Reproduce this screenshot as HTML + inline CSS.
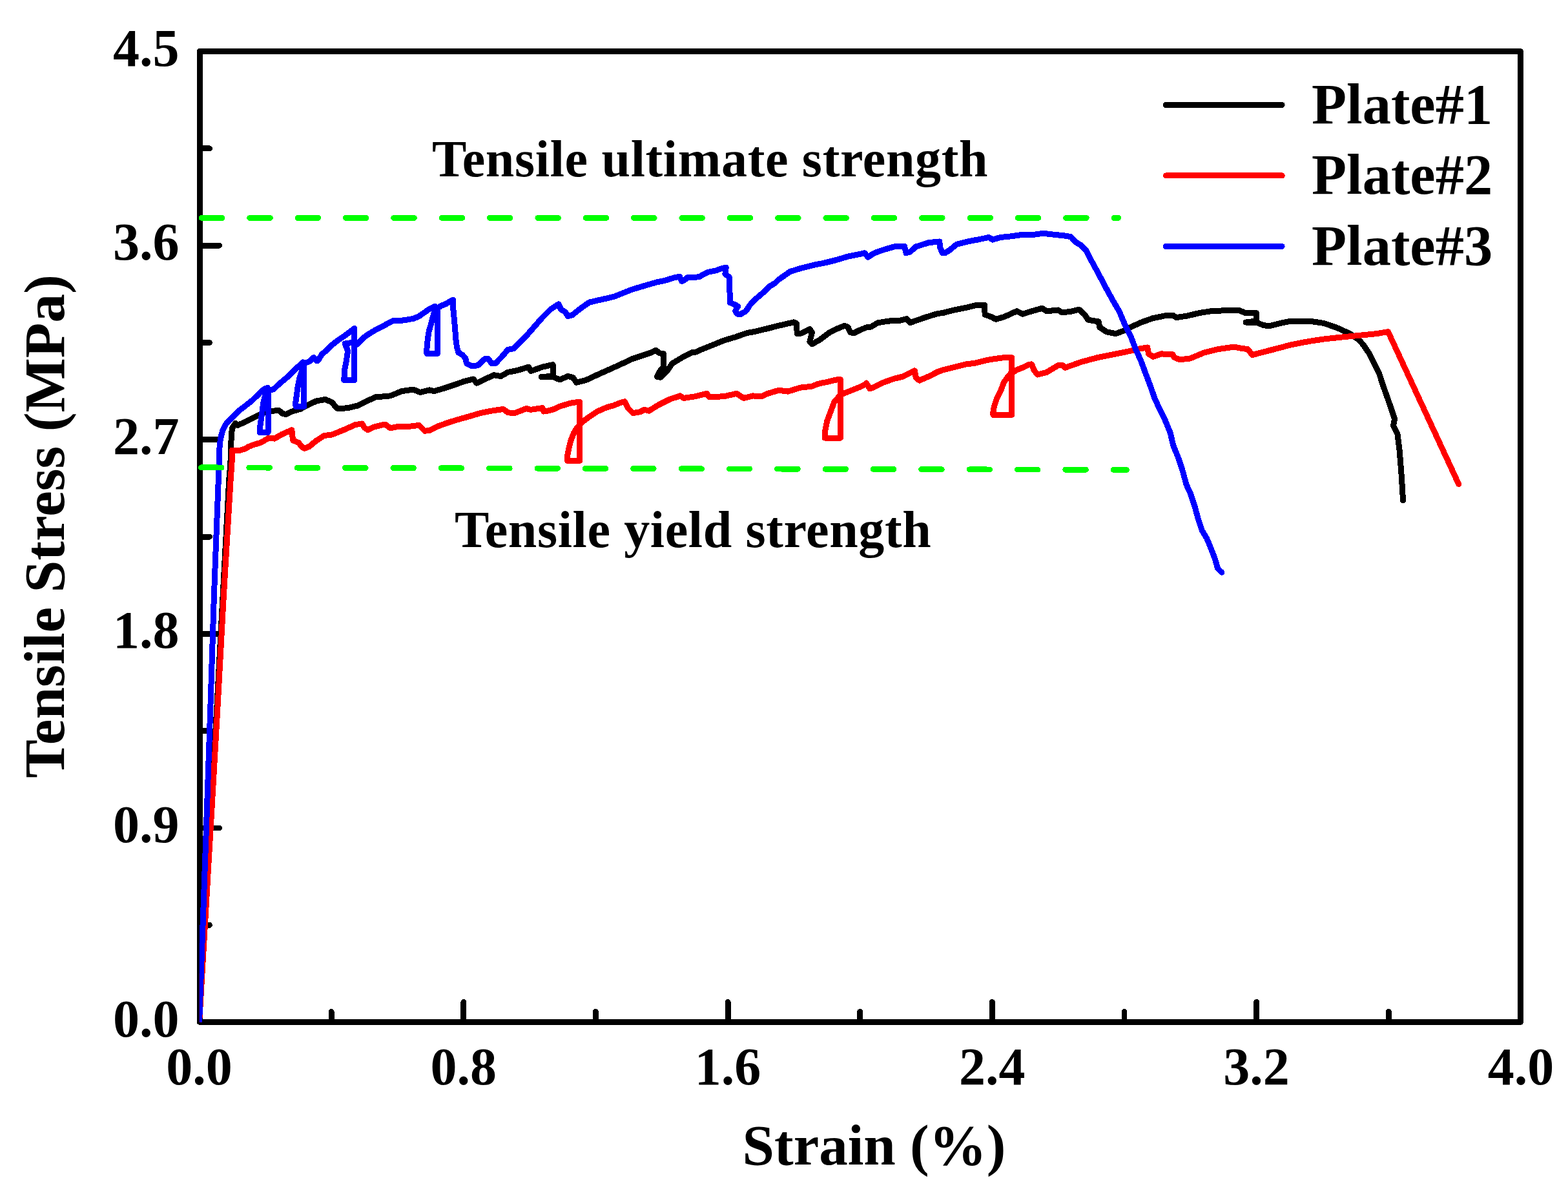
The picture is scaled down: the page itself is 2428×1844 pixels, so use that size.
<!DOCTYPE html>
<html><head><meta charset="utf-8"><style>html,body{margin:0;padding:0;background:#fff;overflow:hidden}svg{display:block}</style></head><body>
<svg width="2428" height="1844" viewBox="0 0 2428 1844" shape-rendering="crispEdges">
<rect width="100%" height="100%" fill="#fff"/>
<defs><clipPath id="c"><rect x="308.8" y="79.6" width="2046" height="1503.2"/></clipPath></defs>
<path d="M513.1 1582.5V1566.5 M717.8 1582.5V1551.5 M922.4 1582.5V1566.5 M1127.1 1582.5V1551.5 M1331.7 1582.5V1566.5 M1536.3 1582.5V1551.5 M1741.0 1582.5V1566.5 M1945.6 1582.5V1551.5 M2150.3 1582.5V1566.5 M309.4 1432.3H324.4 M309.4 1282.0H339.4 M309.4 1131.7H324.4 M309.4 981.4H339.4 M309.4 831.1H324.4 M309.4 680.8H339.4 M309.4 530.5H324.4 M309.4 380.2H339.4 M309.4 229.9H324.4" stroke="#000" stroke-width="8.9" stroke-linecap="round" fill="none"/>
<rect x="309.4" y="79.5" width="2045.1" height="1503" fill="none" stroke="#000" stroke-width="8.9" stroke-linejoin="round"/>
<text x="277.5" y="1604.6" font-family="Liberation Serif, Times New Roman, serif" font-weight="bold" font-size="82" text-anchor="end">0.0</text>
<text x="277.5" y="1304.0" font-family="Liberation Serif, Times New Roman, serif" font-weight="bold" font-size="82" text-anchor="end">0.9</text>
<text x="277.5" y="1003.4" font-family="Liberation Serif, Times New Roman, serif" font-weight="bold" font-size="82" text-anchor="end">1.8</text>
<text x="277.5" y="702.8" font-family="Liberation Serif, Times New Roman, serif" font-weight="bold" font-size="82" text-anchor="end">2.7</text>
<text x="277.5" y="402.2" font-family="Liberation Serif, Times New Roman, serif" font-weight="bold" font-size="82" text-anchor="end">3.6</text>
<text x="277.5" y="101.6" font-family="Liberation Serif, Times New Roman, serif" font-weight="bold" font-size="82" text-anchor="end">4.5</text>
<text x="308.5" y="1678.7" font-family="Liberation Serif, Times New Roman, serif" font-weight="bold" font-size="82" text-anchor="middle">0.0</text>
<text x="717.8" y="1678.7" font-family="Liberation Serif, Times New Roman, serif" font-weight="bold" font-size="82" text-anchor="middle">0.8</text>
<text x="1127.1" y="1678.7" font-family="Liberation Serif, Times New Roman, serif" font-weight="bold" font-size="82" text-anchor="middle">1.6</text>
<text x="1536.3" y="1678.7" font-family="Liberation Serif, Times New Roman, serif" font-weight="bold" font-size="82" text-anchor="middle">2.4</text>
<text x="1945.6" y="1678.7" font-family="Liberation Serif, Times New Roman, serif" font-weight="bold" font-size="82" text-anchor="middle">3.2</text>
<text x="2354.9" y="1678.7" font-family="Liberation Serif, Times New Roman, serif" font-weight="bold" font-size="82" text-anchor="middle">4.0</text>
<text x="1149.5" y="1803.3" font-family="Liberation Serif, Times New Roman, serif" font-weight="bold" font-size="89">Strain (%)</text>
<text transform="translate(99,1204.7) rotate(-90)" font-family="Liberation Serif, Times New Roman, serif" font-weight="bold" font-size="89.4">Tensile Stress (MPa)</text>
<text x="669" y="272.9" font-family="Liberation Serif, Times New Roman, serif" font-weight="bold" font-size="80" letter-spacing="0.67">Tensile ultimate strength</text>
<text x="704" y="846.9" font-family="Liberation Serif, Times New Roman, serif" font-weight="bold" font-size="80" letter-spacing="0.63">Tensile yield strength</text>
<g clip-path="url(#c)" fill="none" stroke-width="9" stroke-linecap="round" stroke-linejoin="round">
<path stroke="#000" d="M308.6 1582.6 L335.6 1100 L343.6 950 L354.9 740 L356.8 720 L357.3 705 L357.6 689 L358.4 675.6 L359 667.5 L359.5 663 L364.6 655.2 L368.3 658.4 L374.2 655.7 L382.3 652 L390.3 647.7 L400 643 L410.7 638 L425 636 L432 635.5 L437.5 640.3 L442.9 641.6 L451.8 637.1 L464.3 633.6 L478.6 626.4 L489.3 621.1 L503.6 618.4 L514.3 622.9 L519.6 630 L523.2 632.7 L537.5 631.8 L553.6 628.2 L567.9 621.1 L582.1 614.5 L592 614 L604.3 612.9 L622.1 605.7 L640 603 L650.7 607.5 L665 603.9 L672.1 605.7 L690 600.4 L706.1 595 L718.6 590.5 L732.9 587 L738.2 593.2 L747.1 588.8 L765 580.7 L775.7 582.5 L786.4 576.3 L800.7 573.6 L818.6 568.2 L822.1 574.5 L840 568.2 L856.1 564.6 L856.1 582.5 L838.5 583.4 L856 583.4 L866.8 587.9 L879.3 582.5 L887.1 584.3 L892.5 592.3 L906.8 588.8 L924.6 580.5 L942.5 572.5 L960.4 564.5 L978 556 L996 550 L1008 546 L1015.7 542.3 L1021.1 546.8 L1027.3 547.7 L1027.3 568.2 L1021.1 575.4 L1017.5 583.4 L1022.9 584.3 L1033.6 573.6 L1040.7 562.9 L1058.6 552.1 L1072.9 545 L1078.2 545 L1085.4 541.4 L1103.2 534.3 L1121.1 527.1 L1138.9 521.8 L1156.8 515.5 L1170 513.2 L1187.9 508.8 L1205.7 504.3 L1228.9 498.9 L1233.4 500.7 L1234.3 516.8 L1241.4 515.9 L1253.9 509.6 L1257.5 515 L1253.9 529.3 L1257.5 532.9 L1270 525.7 L1284.3 515 L1295 509.6 L1307.5 504.3 L1312.9 506.1 L1316.4 514.1 L1321.8 515.9 L1330.7 511.4 L1341.4 507 L1348.6 506.1 L1359.3 499.8 L1375.4 497.1 L1393.2 496.3 L1403.9 493.6 L1409.3 499.8 L1416.4 497.1 L1434.3 490.9 L1452.1 485.5 L1460 484.5 L1477.9 480 L1495.7 476.4 L1513.6 472 L1524.3 472 L1525.2 487.1 L1535 490.7 L1542.1 494.3 L1554.6 490.7 L1574.3 481.8 L1583.2 486.3 L1597.5 481.8 L1613.6 477.3 L1620.7 481.8 L1638.6 480 L1643.9 483.6 L1656.4 482.7 L1670.7 479.1 L1679.6 487.1 L1685 495.2 L1701.1 497.9 L1702.9 506.8 L1713.6 513.9 L1727.9 516.6 L1742.1 511.3 L1750 506.8 L1767.9 498.8 L1785.7 492.5 L1803.6 488.9 L1816.1 488 L1821.4 491.6 L1839.3 488.9 L1857.1 484.5 L1875 481.8 L1892.9 480.9 L1919.6 480.9 L1928.6 484.5 L1945.5 484.5 L1945.5 497 L1929 499 L1945 499 L1955.4 503.2 L1964.3 505 L1982.1 500.5 L2000 497 L2026.8 497 L2050.2 500.5 L2070.5 507.6 L2090.7 516.7 L2104.9 526.8 L2111.4 534.3 L2120 547.1 L2128.6 564.3 L2136 579.3 L2141.4 596.4 L2146.8 611.4 L2152.1 626.4 L2156.4 639.3 L2159.6 648.9 L2157.5 658.6 L2163.9 671.4 L2167.1 697.1 L2169.7 729.3 L2171.8 761.4 L2172.5 775"/>
<path stroke="#f00" d="M308.6 1582.6 L326.3 1280 L336.7 1100 L346.5 920 L357.3 740 L358.8 720 L359.3 710.4 L359.3 702.3 L359.2 697 L366.2 697 L372.6 697 L379.6 694.8 L385 691.6 L393 688.4 L403.6 685.4 L416.1 678.2 L425 679.1 L435.7 672.9 L451.8 665.7 L453.6 681.8 L462.5 685.4 L467 691.6 L471.4 694.3 L478.6 691.6 L489.3 682.7 L501.8 674.6 L514.3 672.9 L532.1 665.7 L550 657.7 L560.7 655.9 L564.3 662.1 L569.6 665.7 L578.6 661.3 L592.9 657.7 L597.1 657.5 L604.3 662.9 L616.8 660.2 L634.6 660.2 L648.9 658.4 L657.9 667.3 L665 666.4 L677.5 660.2 L690 655.7 L706.1 650.4 L725.7 645 L743.6 639.6 L761.4 636.1 L779.3 633.4 L786.4 638.8 L797.1 639.6 L815 632.5 L822.1 634.3 L840 631.6 L841.8 637 L850 635.8 L858.3 633.3 L866.7 629.2 L875 626.7 L883.3 624.2 L891.7 622.9 L897.9 622.5 L897.9 713.2 L878.3 713.2 L878.3 708.3 L879.6 700 L883.5 683.3 L888.3 670.8 L893.3 662.5 L901.7 653.3 L908.3 648.3 L916.7 642.5 L925 637.1 L933.3 633.3 L941.7 630 L950 627.9 L960.4 623.6 L967.5 621.8 L972.9 632.5 L980 639.6 L990.7 637.9 L997.9 634.3 L1005 636.1 L1019.3 627.1 L1037.1 618.2 L1053.2 612.9 L1058.6 616.4 L1076.4 613.8 L1094.3 609.3 L1097.9 614.6 L1121.1 613.8 L1140.7 609.3 L1151.4 616.4 L1165.7 612.9 L1170 613.2 L1180.7 613.2 L1187.9 609.6 L1205.7 604.3 L1220 606.1 L1240 600 L1248.3 599.2 L1256.7 598.3 L1265 595 L1273.3 592.9 L1281.7 591.3 L1290 589.2 L1298.3 587.5 L1301.5 587.5 L1301.5 678 L1277 678 L1277.5 668.3 L1280.8 651.7 L1287.1 635 L1291.7 622.5 L1300 613 L1306.7 609.2 L1315 605.8 L1323.3 602.5 L1331.7 599.2 L1340 595 L1341.4 593 L1346.8 601.6 L1350.4 600.7 L1366.4 592.7 L1384.3 586.4 L1398.6 582.9 L1416.4 573.9 L1418.2 584.6 L1423.6 589.1 L1437.9 582.9 L1452.1 575.7 L1460 572.9 L1477.9 568.4 L1495.7 563.9 L1508.3 562.5 L1516.7 560.4 L1525 558.3 L1533.3 556.7 L1541.7 555.4 L1550 554.2 L1558.3 553.3 L1566.8 553.75 L1566.8 642.3 L1537.9 642.3 L1537.9 638.3 L1539.2 630 L1543.3 617.5 L1549.6 605 L1554.2 592.5 L1560 584.2 L1565 578.3 L1575 572.5 L1583.3 569.2 L1591.7 565 L1597.5 563.9 L1601.1 572.9 L1606.4 580 L1620.7 576.4 L1638.6 565.7 L1645.7 565.7 L1649.3 569.3 L1674.3 560.4 L1701.1 553.2 L1727.9 547.9 L1750 543.4 L1760.7 540.7 L1776.8 538 L1778.6 547.9 L1785.7 552.3 L1798.2 547.9 L1816.1 548.8 L1817.9 553.2 L1826.8 556.8 L1842.9 555 L1864.3 546.1 L1885.7 540.7 L1910.7 537.1 L1919.6 538.9 L1932.1 540.7 L1939.3 549.6 L1951.8 546.1 L1973.2 540.7 L2000 533.6 L2026.8 528.5 L2050 525 L2070.5 522.8 L2090.7 520.7 L2111 518.7 L2131.2 516.7 L2149.4 513.6 L2258.7 749.5"/>
<path stroke="#00f" d="M308.6 1582.6 L319.5 1280 L325.7 1100 L331.5 920 L338.4 740 L339.4 720 L339.4 705 L339.9 694.3 L340.9 683.6 L342.3 675.6 L344.5 667.5 L349.6 656.8 L359.9 646.1 L370.5 635.4 L378.5 629.5 L390 620.4 L398.3 612.5 L405 605.5 L411 601.5 L414.5 600.5 L411.5 609 L407.8 623.3 L404.5 648.3 L402 665 L402.5 669.6 L415 669.6 L415 604 L418 603 L423.3 603 L429.8 596.8 L435.8 591.5 L447.6 581.7 L460.8 568.5 L469.2 560.8 L467.8 573.3 L463.7 585.8 L461.2 598.3 L459.5 610.8 L457.8 623.3 L458 629.3 L470.8 629.3 L470.8 563 L480.4 559 L485.7 553.4 L491 559 L494 556 L498 549 L505 543 L514.3 534 L521.7 528 L532 521 L538.3 516.5 L549 508.5 L548.5 530 L534 532 L538.7 543.3 L536.2 559.2 L533.7 571.7 L532.8 588.5 L548.5 589 L548.5 535 L553.3 532.9 L563.3 522.5 L571.7 516.7 L580 511.7 L590 506.6 L607.9 496.8 L625.7 495.9 L640 493.3 L648.3 490 L656.7 484.2 L665 478.3 L673.3 474.2 L672 485 L669.5 493.3 L667 503.3 L664.1 513.3 L662.8 521.7 L661.2 534.2 L660.75 545.8 L661 547.5 L677.5 547.5 L677.5 477.5 L683.3 473.3 L690 470.8 L698.3 465.8 L701.7 464.2 L701.7 477.5 L703.1 491.7 L704.6 508.3 L705.8 525 L707.5 537.5 L710 545.8 L716.7 550 L720.8 555 L722.5 562.5 L730 566.7 L740 565.8 L750.7 555.7 L756.1 555.7 L761.4 562.9 L766.8 562.9 L775.7 553.9 L786.4 541.4 L795.4 539.6 L804.3 530.7 L815 520 L827.5 505.7 L840 491.4 L852.5 478.9 L865 470.9 L868.6 478.9 L875.7 483.4 L879.3 489.6 L886.2 487.8 L899.3 477.3 L912.4 468.1 L925.5 465.1 L938.6 462.2 L951.7 458.9 L964.8 453.7 L977.9 448.5 L991 444.5 L1004.1 440.6 L1017.2 436.9 L1030.3 434.1 L1043.4 430.1 L1052.5 428.2 L1055.5 435.5 L1060 433.5 L1065.2 429.3 L1076.4 429.3 L1082.9 428.6 L1089.5 424.7 L1096 421.4 L1102.6 420.1 L1109.1 418.8 L1115.7 416.2 L1124.2 414.2 L1122.9 424.1 L1129.4 429.3 L1129.7 442.4 L1130.1 455.5 L1130.4 468.6 L1138.6 471.9 L1142.5 474.5 L1138.6 481.7 L1141.9 486.3 L1147.1 486.3 L1155 481.7 L1161.5 471.9 L1171.3 462 L1181.2 453.5 L1191 443.7 L1200 438.5 L1205.7 432.9 L1223.6 420.4 L1241.4 415 L1259.3 410.5 L1277.1 407 L1295 402.5 L1312.9 397.1 L1330.7 393.6 L1338.8 391.8 L1344.1 398 L1353.9 391.8 L1366.4 387.3 L1384.3 382 L1400.4 381.1 L1403 391.8 L1409.3 390 L1418.2 382 L1437.9 375.7 L1454.8 373.9 L1455.7 382.9 L1459.3 391.8 L1463.6 391.6 L1470.7 387.1 L1481.4 378.2 L1495.7 374.6 L1513.6 371.1 L1531.4 367.5 L1536.8 371.1 L1549.3 367.5 L1567.1 365.7 L1585 363 L1602.9 363 L1615.4 361.3 L1629.6 363 L1647.5 364.8 L1658.2 366.6 L1665.4 374.6 L1674.3 380 L1681.4 387.1 L1688.6 401.4 L1691.4 406.2 L1701.1 424 L1711.8 444.3 L1722 463 L1733.3 482.4 L1741.3 501.4 L1750.9 520.5 L1758.1 539.5 L1766.7 558.6 L1773.7 577.6 L1781 596.7 L1787.6 615.7 L1796.2 634.8 L1803.9 650 L1812.1 670 L1816.9 690 L1825 710 L1831.6 730 L1836.9 750 L1843.75 765 L1850 783.75 L1855 802.5 L1861.25 821.25 L1868.75 833.75 L1875 848.75 L1881.25 865 L1885.6 880 L1891.9 886.25"/>
</g>
<path d="M312.3 337.4H1731.6" stroke="#00ff00" stroke-width="8.8" stroke-linecap="round" stroke-dasharray="31.7 42.65" fill="none"/>
<path d="M311.4 723.85L1744.6 727.45" stroke="#00ff00" stroke-width="8.8" stroke-linecap="round" stroke-dasharray="31.7 42.65" fill="none"/>
<path d="M1805.2 162.4H1985.2" stroke="#000" stroke-width="8.9" stroke-linecap="round"/>
<text x="2031" y="191.0" font-family="Liberation Serif, Times New Roman, serif" font-weight="bold" font-size="88.5">Plate#1</text>
<path d="M1805.2 271.9H1985.2" stroke="#f00" stroke-width="8.9" stroke-linecap="round"/>
<text x="2031" y="300.3" font-family="Liberation Serif, Times New Roman, serif" font-weight="bold" font-size="88.5">Plate#2</text>
<path d="M1805.2 381.4H1985.2" stroke="#00f" stroke-width="8.9" stroke-linecap="round"/>
<text x="2031" y="409.6" font-family="Liberation Serif, Times New Roman, serif" font-weight="bold" font-size="88.5">Plate#3</text>
</svg>
</body></html>
